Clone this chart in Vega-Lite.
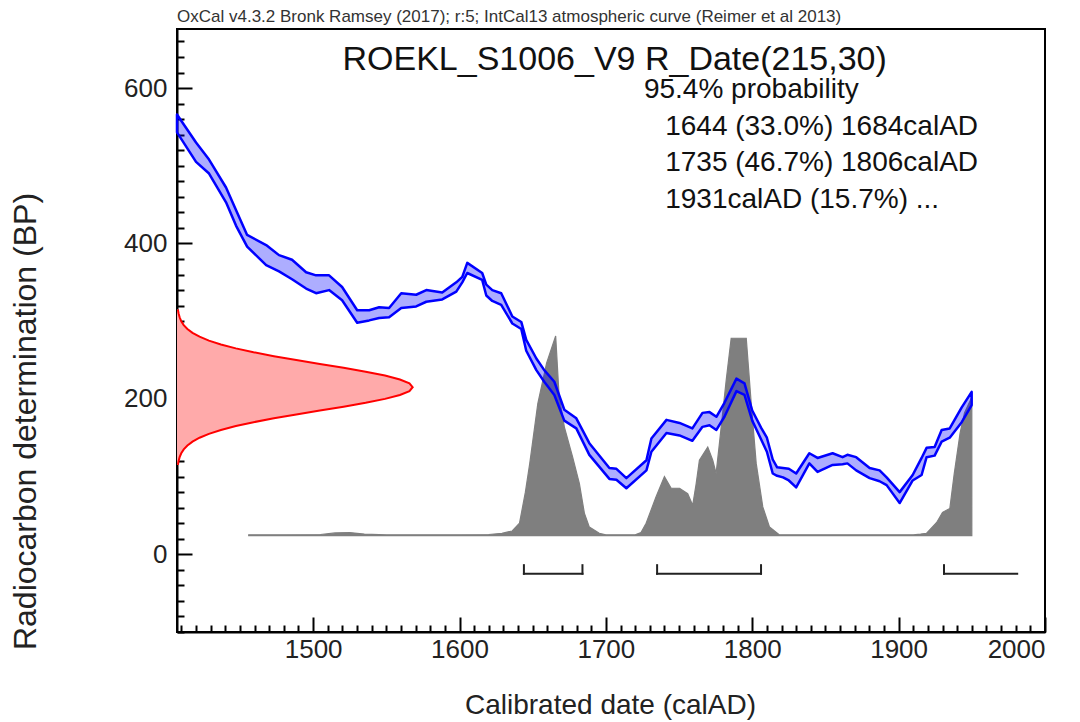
{
  "$schema": "https://vega.github.io/schema/vega-lite/v6.json",
  "autosize": {"type": "none"},
  "width": 868,
  "height": 603,
  "padding": {"left": 177, "top": 29, "right": 35, "bottom": 90},
  "background": "white",
  "config": {
    "view": {"stroke": "#000", "strokeWidth": 2},
    "font": "Liberation Sans",
    "axis": {
      "grid": false,
      "domain": true,
      "domainColor": "#000",
      "domainWidth": 2,
      "zindex": 1,
      "labelFont": "Liberation Sans",
      "titleFont": "Liberation Sans",
      "labelColor": "#222",
      "titleColor": "#222",
      "titleFontWeight": "normal",
      "labelFontSize": 26,
      "titleFontSize": 28,
      "tickColor": "#000",
      "tickWidth": 2,
      "tickSize": -15,
      "tickCount": 200,
      "labelOverlap": false,
      "labelBound": false
    }
  },
  "datasets": {
    "grey": [
      {"year": 1456, "p": 25}, {"year": 1480, "p": 25}, {"year": 1505, "p": 25.5}, {"year": 1515, "p": 27.5},
      {"year": 1525, "p": 28}, {"year": 1535, "p": 26}, {"year": 1550, "p": 25}, {"year": 1600, "p": 25},
      {"year": 1620, "p": 25.5}, {"year": 1629, "p": 27}, {"year": 1636, "p": 30}, {"year": 1641, "p": 40},
      {"year": 1645, "p": 80}, {"year": 1648, "p": 117}, {"year": 1653.5, "p": 194}, {"year": 1659.5, "p": 246},
      {"year": 1665.7, "p": 281}, {"year": 1668, "p": 205}, {"year": 1671.6, "p": 164}, {"year": 1677.3, "p": 125},
      {"year": 1681.9, "p": 91}, {"year": 1685.3, "p": 53}, {"year": 1688.7, "p": 35}, {"year": 1695.5, "p": 27},
      {"year": 1700, "p": 25}, {"year": 1720, "p": 25}, {"year": 1724, "p": 28}, {"year": 1727.5, "p": 40},
      {"year": 1734.3, "p": 74}, {"year": 1740, "p": 100}, {"year": 1744.6, "p": 85}, {"year": 1750.3, "p": 85},
      {"year": 1755.9, "p": 78}, {"year": 1759.3, "p": 63}, {"year": 1761.7, "p": 91}, {"year": 1763.9, "p": 121},
      {"year": 1769.6, "p": 138}, {"year": 1773, "p": 121}, {"year": 1775.3, "p": 104}, {"year": 1777.6, "p": 143},
      {"year": 1782.2, "p": 224}, {"year": 1785.6, "p": 278}, {"year": 1795.9, "p": 278}, {"year": 1799.3, "p": 194},
      {"year": 1802.7, "p": 117}, {"year": 1807.2, "p": 61}, {"year": 1811.8, "p": 35}, {"year": 1818.6, "p": 25},
      {"year": 1850, "p": 25}, {"year": 1880, "p": 25}, {"year": 1910, "p": 25}, {"year": 1915, "p": 26},
      {"year": 1919, "p": 27}, {"year": 1926, "p": 41}, {"year": 1930, "p": 54}, {"year": 1935, "p": 59},
      {"year": 1938, "p": 104}, {"year": 1942, "p": 156}, {"year": 1945, "p": 182}, {"year": 1950, "p": 202}
    ],
    "curve": [
      {"year": 1407, "hi": 566, "lo": 543}, {"year": 1420, "hi": 530, "lo": 505}, {"year": 1428.9, "hi": 508, "lo": 490},
      {"year": 1440.5, "hi": 472, "lo": 453}, {"year": 1447.3, "hi": 443, "lo": 423}, {"year": 1454.9, "hi": 411, "lo": 396},
      {"year": 1467.9, "hi": 398, "lo": 372}, {"year": 1476.7, "hi": 385, "lo": 364}, {"year": 1485.6, "hi": 379, "lo": 354},
      {"year": 1495.2, "hi": 363, "lo": 342}, {"year": 1502, "hi": 359, "lo": 336}, {"year": 1510.9, "hi": 359, "lo": 340},
      {"year": 1519.8, "hi": 344, "lo": 327}, {"year": 1530.1, "hi": 314, "lo": 298}, {"year": 1538.3, "hi": 314, "lo": 301},
      {"year": 1545.1, "hi": 318, "lo": 304}, {"year": 1551.9, "hi": 317, "lo": 305}, {"year": 1560.2, "hi": 336, "lo": 317},
      {"year": 1570.4, "hi": 334, "lo": 319}, {"year": 1577.3, "hi": 340, "lo": 325}, {"year": 1588.2, "hi": 337, "lo": 328},
      {"year": 1597.8, "hi": 350, "lo": 338}, {"year": 1601.9, "hi": 357, "lo": 350}, {"year": 1605.3, "hi": 375, "lo": 362},
      {"year": 1615.5, "hi": 362, "lo": 353}, {"year": 1618.3, "hi": 347, "lo": 333}, {"year": 1622.4, "hi": 340, "lo": 326},
      {"year": 1628.5, "hi": 336, "lo": 321}, {"year": 1636.1, "hi": 306, "lo": 297}, {"year": 1642.2, "hi": 299, "lo": 290},
      {"year": 1645.6, "hi": 276, "lo": 262}, {"year": 1652.5, "hi": 252, "lo": 237}, {"year": 1657.9, "hi": 237, "lo": 222},
      {"year": 1664.8, "hi": 222, "lo": 205}, {"year": 1671.6, "hi": 186, "lo": 172}, {"year": 1679.8, "hi": 175, "lo": 162},
      {"year": 1688.7, "hi": 143, "lo": 128}, {"year": 1702.4, "hi": 111, "lo": 97}, {"year": 1707.2, "hi": 110, "lo": 96},
      {"year": 1714, "hi": 98, "lo": 85}, {"year": 1727.7, "hi": 121, "lo": 108}, {"year": 1731.1, "hi": 149, "lo": 132},
      {"year": 1741.4, "hi": 173, "lo": 156}, {"year": 1750.3, "hi": 169, "lo": 153}, {"year": 1759.1, "hi": 162, "lo": 146},
      {"year": 1766, "hi": 182, "lo": 164}, {"year": 1770.8, "hi": 183, "lo": 166}, {"year": 1775.5, "hi": 177, "lo": 160},
      {"year": 1781, "hi": 195, "lo": 177}, {"year": 1789.2, "hi": 226, "lo": 210}, {"year": 1794.7, "hi": 220, "lo": 205},
      {"year": 1800, "hi": 185, "lo": 172}, {"year": 1806, "hi": 163, "lo": 148}, {"year": 1810, "hi": 150, "lo": 132},
      {"year": 1814, "hi": 122, "lo": 104}, {"year": 1817, "hi": 112, "lo": 101}, {"year": 1821, "hi": 111, "lo": 99},
      {"year": 1825, "hi": 110, "lo": 95}, {"year": 1830, "hi": 104, "lo": 86}, {"year": 1839, "hi": 130, "lo": 117},
      {"year": 1844.6, "hi": 124, "lo": 106}, {"year": 1854.9, "hi": 130, "lo": 115}, {"year": 1861.7, "hi": 125, "lo": 116},
      {"year": 1865, "hi": 128, "lo": 117}, {"year": 1871, "hi": 125, "lo": 108}, {"year": 1880.2, "hi": 111, "lo": 98},
      {"year": 1887, "hi": 108, "lo": 94}, {"year": 1891.8, "hi": 99, "lo": 89}, {"year": 1900.7, "hi": 80, "lo": 66},
      {"year": 1909.6, "hi": 102, "lo": 95}, {"year": 1915.7, "hi": 124, "lo": 102}, {"year": 1919.1, "hi": 137, "lo": 125},
      {"year": 1924.6, "hi": 138, "lo": 127}, {"year": 1929.4, "hi": 160, "lo": 145}, {"year": 1934.9, "hi": 162, "lo": 150},
      {"year": 1943.1, "hi": 189, "lo": 170}, {"year": 1949.9, "hi": 209, "lo": 192}
    ],
    "red": [
      {"bp": 115, "x": 1407.6}, {"bp": 120, "x": 1408.1}, {"bp": 125, "x": 1408.8}, {"bp": 130, "x": 1409.9},
      {"bp": 135, "x": 1411.6}, {"bp": 140, "x": 1414.1}, {"bp": 145, "x": 1417.6}, {"bp": 150, "x": 1422.4},
      {"bp": 155, "x": 1428.8}, {"bp": 160, "x": 1437.0}, {"bp": 165, "x": 1447.2}, {"bp": 170, "x": 1459.3},
      {"bp": 175, "x": 1473.2}, {"bp": 180, "x": 1488.5}, {"bp": 185, "x": 1504.6}, {"bp": 190, "x": 1520.8},
      {"bp": 195, "x": 1535.9}, {"bp": 200, "x": 1549.1}, {"bp": 205, "x": 1559.3}, {"bp": 210, "x": 1565.8},
      {"bp": 215, "x": 1568.0}, {"bp": 220, "x": 1565.8}, {"bp": 225, "x": 1559.3}, {"bp": 230, "x": 1549.1},
      {"bp": 235, "x": 1535.9}, {"bp": 240, "x": 1520.8}, {"bp": 245, "x": 1504.6}, {"bp": 250, "x": 1488.5},
      {"bp": 255, "x": 1473.2}, {"bp": 260, "x": 1459.3}, {"bp": 265, "x": 1447.2}, {"bp": 270, "x": 1437.0},
      {"bp": 275, "x": 1428.8}, {"bp": 280, "x": 1422.4}, {"bp": 285, "x": 1417.6}, {"bp": 290, "x": 1414.1},
      {"bp": 295, "x": 1411.6}, {"bp": 300, "x": 1409.9}, {"bp": 305, "x": 1408.8}, {"bp": 310, "x": 1408.1},
      {"bp": 315, "x": 1407.6}
    ],
    "ranges": [
      {"from": 1644, "to": 1684}, {"from": 1735, "to": 1806}, {"from": 1931, "to": 1981}
    ],
    "ends": [
      {"year": 1644}, {"year": 1684}, {"year": 1735}, {"year": 1806}, {"year": 1931}
    ]
  },
  "layer": [
    {
      "data": {"name": "grey"},
      "mark": {"type": "area", "fill": "#7f7f7f", "stroke": "#7f7f7f", "strokeWidth": 1.2},
      "encoding": {
        "x": {
          "field": "year", "type": "quantitative", "title": "Calibrated date (calAD)",
          "scale": {"domain": [1407, 2000], "nice": false, "zero": false},
          "axis": {
            "values": [1410,1420,1430,1440,1450,1460,1470,1480,1490,1500,1510,1520,1530,1540,1550,1560,1570,1580,1590,1600,1610,1620,1630,1640,1650,1660,1670,1680,1690,1700,1710,1720,1730,1740,1750,1760,1770,1780,1790,1800,1810,1820,1830,1840,1850,1860,1870,1880,1890,1900,1910,1920,1930,1940,1950,1960,1970,1980,1990,2000],
            "format": "d",
            "labelExpr": "datum.value % 100 === 0 ? datum.label : ''",
            "tickDash": {"condition": {"test": "datum.value % 100 !== 0", "value": [7, 40]}, "value": [20, 0]},
            "labelPadding": 19,
            "titleX": 433,
            "titleY": 81,
            "titleBaseline": "alphabetic",
            "titleAnchor": "middle",
            "titleAlign": "center"
          }
        },
        "y": {
          "field": "p", "type": "quantitative", "title": "Radiocarbon determination (BP)",
          "scale": {"domain": [-100, 676], "nice": false, "zero": false},
          "axis": {
            "values": [-100,-80,-60,-40,-20,0,20,40,60,80,100,120,140,160,180,200,220,240,260,280,300,320,340,360,380,400,420,440,460,480,500,520,540,560,580,600,620,640,660],
            "format": "d",
            "labelExpr": "datum.value % 200 === 0 ? datum.label : ''",
            "tickDash": {"condition": {"test": "datum.value % 200 !== 0", "value": [7, 40]}, "value": [20, 0]},
            "labelPadding": 25,
            "titleX": -142,
            "titleY": 392,
            "titleFontSize": 32,
            "titleBaseline": "alphabetic",
            "titleAlign": "center",
            "titleAngle": -90
          }
        },
        "y2": {"datum": 24}
      }
    },
    {
      "data": {"name": "curve"},
      "mark": {"type": "area", "fill": "#0000ff", "fillOpacity": 0.32, "stroke": "#0000ff", "strokeWidth": 2.5, "strokeJoin": "round"},
      "encoding": {
        "x": {"field": "year", "type": "quantitative", "title": "Calibrated date (calAD)"},
        "y": {"field": "hi", "type": "quantitative", "title": "Radiocarbon determination (BP)"},
        "y2": {"field": "lo"}
      }
    },
    {
      "data": {"name": "red"},
      "mark": {"type": "area", "orient": "horizontal", "fill": "#ffaaaa"},
      "encoding": {
        "y": {"field": "bp", "type": "quantitative", "title": "Radiocarbon determination (BP)"},
        "x": {"field": "x", "type": "quantitative", "title": "Calibrated date (calAD)"},
        "x2": {"datum": 1407}
      }
    },
    {
      "data": {"name": "red"},
      "mark": {"type": "line", "color": "#ff0000", "strokeWidth": 2},
      "encoding": {
        "y": {"field": "bp", "type": "quantitative", "title": "Radiocarbon determination (BP)"},
        "x": {"field": "x", "type": "quantitative", "title": "Calibrated date (calAD)"},
        "order": {"field": "bp", "type": "quantitative"}
      }
    },
    {
      "data": {"name": "ranges"},
      "mark": {"type": "rule", "color": "#222", "strokeWidth": 2, "strokeCap": "square"},
      "encoding": {
        "x": {"field": "from", "type": "quantitative", "title": "Calibrated date (calAD)"},
        "x2": {"field": "to"},
        "y": {"datum": -25}
      }
    },
    {
      "data": {"name": "ends"},
      "mark": {"type": "rule", "color": "#222", "strokeWidth": 2, "strokeCap": "square"},
      "encoding": {
        "x": {"field": "year", "type": "quantitative", "title": "Calibrated date (calAD)"},
        "y": {"datum": -25},
        "y2": {"datum": -14}
      }
    },
    {
      "data": {"values": [{}]},
      "mark": {"type": "text", "fontSize": 17, "align": "left", "baseline": "alphabetic", "font": "Liberation Sans", "color": "#333"},
      "encoding": {
        "x": {"datum": 1407},
        "y": {"datum": 685},
        "text": {"value": "OxCal v4.3.2 Bronk Ramsey (2017); r:5; IntCal13 atmospheric curve (Reimer et al 2013)"}
      }
    },
    {
      "data": {"values": [{}]},
      "mark": {"type": "text", "fontSize": 34, "align": "center", "baseline": "alphabetic", "font": "Liberation Sans", "color": "#111"},
      "encoding": {
        "x": {"datum": 1706},
        "y": {"datum": 623},
        "text": {"value": "ROEKL_S1006_V9 R_Date(215,30)"}
      }
    },
    {
      "data": {"values": [{}]},
      "mark": {"type": "text", "fontSize": 28, "align": "left", "baseline": "alphabetic", "font": "Liberation Sans", "color": "#111"},
      "encoding": {
        "x": {"datum": 1726},
        "y": {"datum": 587},
        "text": {"value": "95.4% probability"}
      }
    },
    {
      "data": {"values": [{}]},
      "mark": {"type": "text", "fontSize": 28, "align": "left", "baseline": "alphabetic", "font": "Liberation Sans", "color": "#111", "lineHeight": 36.7},
      "encoding": {
        "x": {"datum": 1740.5},
        "y": {"datum": 540},
        "text": {"value": ["1644 (33.0%) 1684calAD", "1735 (46.7%) 1806calAD", "1931calAD (15.7%) ..."]}
      }
    }
  ]
}
